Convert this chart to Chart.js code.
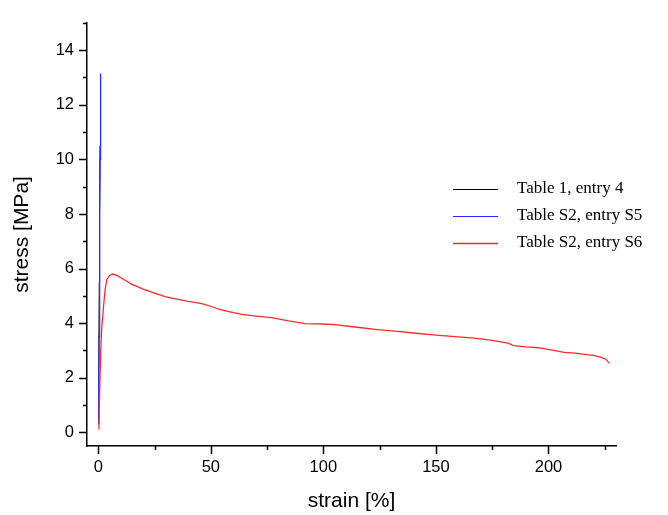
<!DOCTYPE html>
<html>
<head>
<meta charset="utf-8">
<title>stress-strain</title>
<script src="https://cdn.jsdelivr.net/npm/chart.js@4.4.1/dist/chart.umd.min.js"></script>
<style>
    html, body { margin: 0; padding: 0; background: #fff; }
    #chart-wrap { width: 668px; height: 515px; }
</style>
</head>
<body>
<div id="chart-wrap"><canvas id="stressChart" width="668" height="515"></canvas></div>
<script>
// Series labels
const seriesNames = ["Table 1, entry 4", "Table S2, entry S5", "Table S2, entry S6"];

// Table 1, entry 4 (strain %, stress MPa)
const strainE4 = [0.0, 0.25, 0.45, 0.6, 0.78, 0.95, 1.1];
const stressE4 = [0.3, 3.0, 5.5, 8.0, 10.5, 12.5, 13.05];

// Table S2, entry S5
const strainS5 = [0.1, 0.4, 0.55, 0.7, 0.85, 0.95, 1.1];
const stressS5 = [0.5, 3.5, 5.8, 8.0, 10.0, 12.2, 13.15];

// Table S2, entry S6
const strainS6 = [0.3, 0.6, 1.1, 1.6, 2.3, 3.0, 3.8, 5.0, 6.4, 8.5, 11, 15, 20, 25, 30, 35, 40, 46, 50, 53.5,
    58, 63.8, 70, 77, 84.5, 92, 100, 105, 114, 124, 133, 140, 150, 160, 167, 175, 182, 184.5, 190, 195.5,
    201, 207, 212, 216, 220, 223.5, 225.5, 227];
const stressS6 = [0.1, 1.5, 3.0, 3.9, 4.57, 5.2, 5.6, 5.75, 5.8, 5.74, 5.62, 5.42, 5.25, 5.1, 4.96, 4.88, 4.8, 4.72, 4.62, 4.51,
    4.42, 4.32, 4.26, 4.2, 4.08, 3.98, 3.97, 3.95, 3.86, 3.76, 3.7, 3.64, 3.56, 3.5, 3.45, 3.37, 3.27, 3.18, 3.13, 3.1,
    3.02, 2.93, 2.9, 2.86, 2.82, 2.75, 2.68, 2.53];

// Axis ticks
const xTicks = [0, 25, 50, 75, 100, 125, 150, 175, 200, 225];
const yTicks = [0, 1, 2, 3, 4, 5, 6, 7, 8, 9, 10, 11, 12, 13, 14, 15];

document.addEventListener("DOMContentLoaded", function () {
    drawChart();
});

function toPoints(xs, ys) {
    return xs.map((x, i) => ({ x: x, y: ys[i] }));
}

// Outward tick marks, long at labelled values and short in between
const axisTicks = {
    id: "axisTicks",
    afterDraw(chart) {
        const ctx = chart.ctx;
        const area = chart.chartArea;
        const xs = chart.scales.x;
        const ys = chart.scales.y;
        ctx.save();
        ctx.strokeStyle = "#000";
        ctx.lineWidth = 1.5;
        ctx.beginPath();
        xTicks.forEach(v => {
            const px = Math.round(xs.getPixelForValue(v)) + 0.5;
            const len = v % 50 === 0 ? 8 : 4;
            ctx.moveTo(px, area.bottom);
            ctx.lineTo(px, area.bottom + len);
        });
        yTicks.forEach(v => {
            const py = Math.round(ys.getPixelForValue(v)) + 0.5;
            const len = v % 2 === 0 ? 8 : 4;
            ctx.moveTo(area.left, py);
            ctx.lineTo(area.left - len, py);
        });
        ctx.stroke();
        ctx.restore();
    }
};

// Legend inside the plot, right of the curves
const sideLegend = {
    id: "sideLegend",
    afterDraw(chart) {
        const ctx = chart.ctx;
        const left = 453, top = 189, rowGap = 27;
        ctx.save();
        ctx.font = "17px 'Liberation Serif', 'DejaVu Serif', serif";
        ctx.textBaseline = "middle";
        ctx.fillStyle = "#000";
        chart.data.datasets.forEach((ds, i) => {
            const y = top + i * rowGap;
            ctx.strokeStyle = ds.borderColor;
            ctx.lineWidth = ds.borderWidth;
            ctx.beginPath();
            ctx.moveTo(left, y + 0.5);
            ctx.lineTo(left + 45, y + 0.5);
            ctx.stroke();
            ctx.fillText(ds.label, left + 64, y);
        });
        ctx.restore();
    }
};

function drawChart() {
    const canvas = document.getElementById("stressChart");
    if (!canvas) return;

    const tickFont = { family: "'Liberation Sans', Arial, sans-serif", size: 16.5 };
    const titleFont = { family: "'Liberation Sans', Arial, sans-serif", size: 21 };

    // lower order is painted on top: red over blue over black
    new Chart(canvas.getContext("2d"), {
        type: "line",
        data: {
            datasets: [
                { label: seriesNames[0], data: toPoints(strainE4, stressE4), borderColor: "#000000", borderWidth: 1, order: 3 },
                { label: seriesNames[1], data: toPoints(strainS5, stressS5), borderColor: "#2a2aff", borderWidth: 1.2, order: 2 },
                { label: seriesNames[2], data: toPoints(strainS6, stressS6), borderColor: "#ff2a2a", borderWidth: 1.3, order: 1 }
            ]
        },
        options: {
            responsive: false,
            animation: false,
            parsing: false,
            elements: { point: { radius: 0 }, line: { tension: 0 } },
            layout: { padding: { top: 15, right: 52, left: 0, bottom: 0 } },
            plugins: {
                legend: { display: false },
                tooltip: { enabled: false }
            },
            scales: {
                x: {
                    type: "linear",
                    min: -5,
                    max: 230,
                    grid: { display: false, drawTicks: false },
                    border: { display: true, color: "#000", width: 1.5 },
                    afterBuildTicks: scale => { scale.ticks = xTicks.map(v => ({ value: v })); },
                    afterFit: scale => { scale.height = 69; },
                    ticks: {
                        autoSkip: false,
                        maxRotation: 0,
                        padding: 12,
                        color: "#000",
                        font: tickFont,
                        callback: v => (v % 50 === 0 ? v : "")
                    },
                    title: { display: true, text: "strain [%]", color: "#000", font: titleFont, padding: { top: 4, bottom: 1 } }
                },
                y: {
                    type: "linear",
                    min: -0.5,
                    max: 15,
                    grid: { display: false, drawTicks: false },
                    border: { display: true, color: "#000", width: 1.5 },
                    afterBuildTicks: scale => { scale.ticks = yTicks.map(v => ({ value: v })); },
                    afterFit: scale => { scale.width = 87; },
                    ticks: {
                        autoSkip: false,
                        padding: 13,
                        color: "#000",
                        font: tickFont,
                        callback: v => (v % 2 === 0 ? v : "")
                    },
                    title: { display: true, text: "stress [MPa]", color: "#000", font: titleFont, padding: { top: 10, bottom: 4 } }
                }
            }
        },
        plugins: [axisTicks, sideLegend]
    });
}
</script>
</body>
</html>
